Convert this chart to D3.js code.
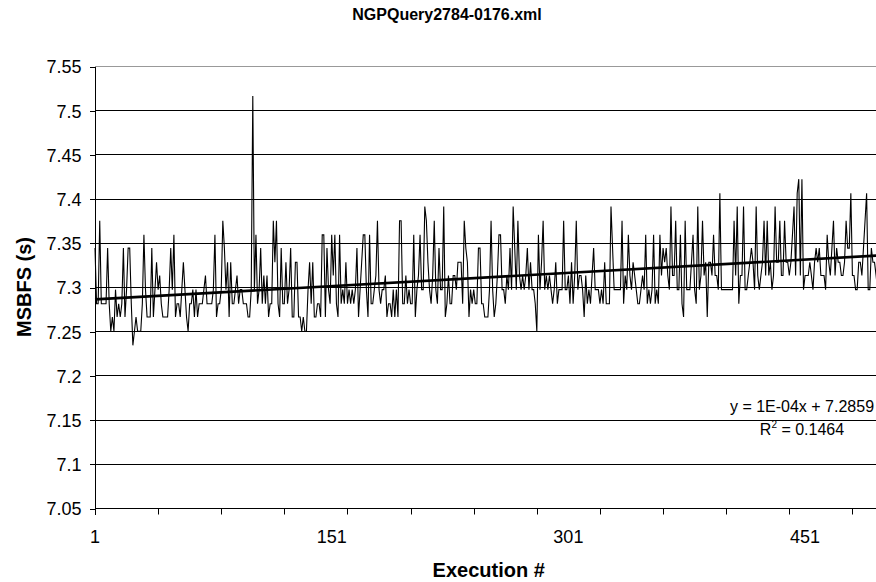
<!DOCTYPE html>
<html>
<head>
  <meta charset="UTF-8">
  <title>NGPQuery2784-0176.xml</title>
  <style>
    body { margin: 0; background: #fff; }
    text { font-family: Arial, "Liberation Sans", sans-serif; fill: #000; }
  </style>
</head>
<body>
<script type='text/javascript' src='https://d3js.org/d3.v7.min.js'></script>
<script>
  var width = 876, height = 582;

  var chartTitle = 'NGPQuery2784-0176.xml';
  var xTitle = 'Execution #';
  var yTitle = 'MSBFS (s)';

  // y axis ticks and shown x labels
  var yTicks = [7.05, 7.1, 7.15, 7.2, 7.25, 7.3, 7.35, 7.4, 7.45, 7.5, 7.55];
  var xLabels = [1, 151, 301, 451];

  // trendline shown in the chart: y = 1E-04x + 7.2859, R2 = 0.1464
  var trendSlope = 0.0001;
  var trendIntercept = 7.2859;
  var trendR2 = '0.1464';

  // MSBFS time (s) per execution (timer steps of ~15.6 ms)
  var times = [
    7.344,7.281,7.281,7.375,7.281,7.281,7.281,7.281,7.344,7.281,
    7.25,7.266,7.25,7.297,7.266,7.281,7.266,7.281,7.344,7.266,
    7.297,7.344,7.344,7.281,7.234,7.25,7.266,7.25,7.25,7.25,
    7.281,7.359,7.297,7.266,7.266,7.266,7.344,7.266,7.297,7.328,
    7.297,7.313,7.281,7.266,7.266,7.266,7.266,7.297,7.344,7.297,
    7.359,7.266,7.281,7.281,7.266,7.297,7.328,7.297,7.266,7.25,
    7.281,7.281,7.297,7.266,7.297,7.266,7.281,7.281,7.281,7.297,
    7.313,7.281,7.281,7.281,7.281,7.297,7.359,7.266,7.281,7.281,
    7.297,7.375,7.344,7.297,7.328,7.266,7.328,7.281,7.281,7.297,
    7.313,7.281,7.297,7.297,7.281,7.281,7.281,7.266,7.266,7.297,
    7.516,7.297,7.359,7.281,7.297,7.344,7.281,7.313,7.281,7.313,
    7.266,7.281,7.281,7.375,7.328,7.375,7.281,7.266,7.344,7.281,
    7.281,7.328,7.281,7.297,
    7.344,7.266,7.266,7.328,7.328,7.266,7.266,7.25,7.266,7.25,
    7.25,7.297,7.328,7.281,7.328,7.266,7.266,7.281,7.281,7.266,
    7.359,7.359,7.266,7.344,7.297,7.281,7.359,7.313,7.359,7.281,
    7.266,7.359,7.281,7.297,7.281,7.328,7.281,7.297,7.281,7.297,
    7.281,7.297,7.344,7.266,7.297,7.328,7.359,7.359,7.297,7.266,
    7.359,7.281,7.281,7.297,7.313,7.375,7.297,7.281,7.297,7.297,
    7.313,7.266,7.281,7.281,7.266,7.297,7.266,7.297,7.266,7.375,
    7.375,7.281,7.281,7.313,7.281,7.297,7.281,7.281,7.359,7.266,
    7.297,7.313,7.359,7.297,7.297,7.391,7.375,7.328,7.297,7.281,
    7.313,7.375,7.297,7.281,7.344,7.297,7.297,7.391,7.266,7.281,
    7.313,7.281,7.281,7.313,7.313,7.297,7.328,7.328,7.328,7.281,
    7.375,7.344,7.328,7.266,7.297,7.281,7.297,7.281,7.281,7.344,
    7.344,7.281,7.281,7.266,7.266,7.266,7.297,7.375,7.297,7.266,
    7.281,7.313,7.359,7.359,7.297,7.297,7.281,7.313,7.297,7.344,
    7.297,7.391,7.344,7.297,7.375,7.313,7.297,7.313,7.297,7.313,
    7.344,7.297,7.328,7.297,7.297,7.281,7.25,7.359,7.297,7.328,
    7.375,7.297,7.313,7.297,7.313,7.297,7.281,7.297,7.328,7.281,
    7.297,7.297,7.297,7.375,7.297,7.297,7.313,7.281,7.328,7.281,
    7.313,7.375,7.297,7.313,7.313,7.297,7.266,7.313,7.281,7.297,
    7.281,7.313,7.344,7.297,7.297,7.297,7.281,7.297,7.281,7.328,
    7.281,7.281,7.281,7.391,7.344,7.297,7.297,7.297,7.297,7.297,
    7.375,7.281,7.313,7.297,7.359,7.313,7.297,7.328,7.313,7.297,
    7.281,7.281,7.297,7.313,7.297,7.359,7.281,7.297,7.281,7.297,
    7.359,7.281,7.297,7.281,7.359,7.313,7.344,7.328,7.344,7.313,
    7.297,7.391,
    7.313,7.313,7.375,7.297,7.297,7.359,7.281,7.266,7.375,7.297,
    7.297,7.297,7.328,7.359,7.297,7.281,7.391,7.297,7.313,7.375,
    7.313,7.328,7.266,7.328,7.328,7.313,7.359,7.313,7.313,7.297,
    7.406,7.297,7.297,7.297,7.297,7.297,7.297,7.297,7.297,7.375,
    7.313,7.391,7.281,7.313,7.313,7.391,7.297,7.297,7.313,7.328,
    7.344,7.328,7.297,7.391,7.313,7.297,7.313,7.328,7.375,7.313,
    7.375,7.313,7.328,7.297,7.313,7.391,7.328,7.328,7.375,7.313,
    7.313,7.375,7.328,7.328,7.313,7.328,7.359,7.391,7.313,7.406,
    7.422,7.313,7.422,7.297,7.313,7.313,7.313,7.328,7.313,7.297,
    7.328,7.344,7.328,7.344,7.313,7.313,7.313,7.297,7.359,7.328,
    7.313,7.344,7.375,7.313,7.344,7.328,7.328,7.313,7.313,7.328,
    7.375,7.344,7.344,7.406,7.313,7.313,7.297,7.297,7.328,7.328,
    7.313,7.344,7.375,7.406,7.297,7.297,7.344,7.328,7.328,7.313,
    7.297,7.328,7.313,7.297
  ];

  var runs = times.map(function(d, i) { return { run: i + 1, t: d }; });

  // plot box (the right side runs past the picture edge)
  var plotLeft = 95, plotTop = 66, plotBottom = 508, plotRight = 882.4;

  var svg = d3.select('body').append('svg')
    .attr('width', width).attr('height', height);

  svg.append('rect').attr('width', width).attr('height', height).attr('fill', '#fff');

  var x = d3.scaleLinear().domain([1, runs.length]).range([plotLeft, plotRight]);
  var y = d3.scaleLinear().domain([7.05, 7.55]).range([plotBottom, plotTop]);

  // horizontal gridlines
  svg.append('g')
    .selectAll('line')
    .data(yTicks.slice(1))
    .join('line')
    .attr('x1', plotLeft).attr('x2', plotRight)
    .attr('y1', function(d) { return Math.round(y(d)) + 0.5; })
    .attr('y2', function(d) { return Math.round(y(d)) + 0.5; })
    .attr('stroke', function(d, i) { return i == yTicks.length - 2 ? '#999' : '#000'; })
    .attr('stroke-width', 1);

  // y axis
  var yAxis = d3.axisLeft(y)
    .tickValues(yTicks)
    .tickSize(6)
    .tickPadding(8)
    .tickFormat(function(d) { return d3.format('.2~f')(d); });

  var gy = svg.append('g')
    .attr('transform', 'translate(' + (plotLeft + 0.5) + ',0.5)')
    .call(yAxis);
  gy.selectAll('path,line').attr('stroke', '#000').attr('shape-rendering', 'crispEdges');
  gy.select('.domain').attr('d', 'M0,' + Math.round(y(7.55)) + 'V' + Math.round(y(7.05) + 6));
  gy.selectAll('text')
    .style('font-size', '18px')
    .style('font-family', 'Arial, "Liberation Sans", sans-serif')
    .attr('dy', '0.36em');

  // x axis: tick marks every 40 runs, labels every 150
  var tickRuns = d3.range(1, runs.length + 1, 40);
  var gx = svg.append('g').attr('transform', 'translate(0,' + (Math.round(y(7.05)) + 0.5) + ')');
  gx.append('line')
    .attr('x1', plotLeft).attr('x2', plotRight)
    .attr('stroke', '#000');
  gx.selectAll('line.tk')
    .data(tickRuns)
    .join('line')
    .attr('class', 'tk')
    .attr('x1', function(d) { return Math.round(x(d)) + 0.5; })
    .attr('x2', function(d) { return Math.round(x(d)) + 0.5; })
    .attr('y1', 0).attr('y2', 6)
    .attr('stroke', '#000');
  gx.selectAll('text')
    .data(xLabels)
    .join('text')
    .attr('x', function(d) { return x(d); })
    .attr('y', 34)
    .attr('text-anchor', 'middle')
    .style('font-size', '18px')
    .text(function(d) { return d; });

  // data line
  var line = d3.line()
    .x(function(d) { return x(d.run); })
    .y(function(d) { return y(d.t); });

  svg.append('path')
    .datum(runs)
    .attr('fill', 'none')
    .attr('stroke', '#000')
    .attr('stroke-width', 1.1)
    .attr('stroke-linejoin', 'miter')
    .attr('d', line);

  // linear trendline
  var trend = [1, runs.length].map(function(r) {
    return { run: r, t: trendSlope * r + trendIntercept };
  });
  svg.append('path')
    .datum(trend)
    .attr('fill', 'none')
    .attr('stroke', '#000')
    .attr('stroke-width', 2.6)
    .attr('d', line);

  // equation label
  var eq = svg.append('g').style('font-size', '16px');
  eq.append('text')
    .attr('x', 802).attr('y', 412)
    .attr('text-anchor', 'middle')
    .text('y = 1E-04x + ' + trendIntercept);
  var r2 = eq.append('text')
    .attr('x', 802).attr('y', 435)
    .attr('text-anchor', 'middle');
  r2.append('tspan').text('R');
  r2.append('tspan').attr('dy', -7).style('font-size', '10px').text('2');
  r2.append('tspan').attr('dy', 7).text(' = ' + trendR2);

  // titles
  svg.append('text')
    .attr('x', 447).attr('y', 19.5)
    .attr('text-anchor', 'middle')
    .style('font-size', '16px').style('font-weight', 'bold')
    .text(chartTitle);

  svg.append('text')
    .attr('x', (plotLeft + plotRight) / 2).attr('y', 577)
    .attr('text-anchor', 'middle')
    .style('font-size', '20px').style('font-weight', 'bold')
    .text(xTitle);

  svg.append('text')
    .attr('transform', 'translate(31,' + (plotTop + plotBottom) / 2 + ') rotate(-90)')
    .attr('text-anchor', 'middle')
    .style('font-size', '20px').style('font-weight', 'bold')
    .text(yTitle);

  console.log('ready..');
</script>
</body>
</html>
